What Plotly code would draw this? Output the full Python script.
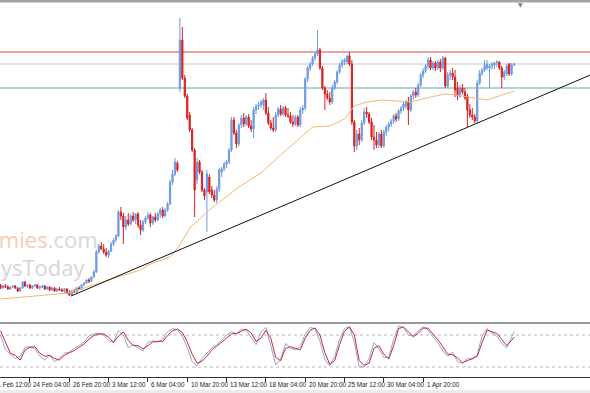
import plotly.graph_objects as go

# ---------------- data (price units are arbitrary; bar index = 4H bars) ----------------
open_ = [35,32,34,33,31,33,34,32,29,32,38,34,35,32,34,35,32,33,34,31,33,30,32,29,31,30,29,31,27,25,
         29,28,32,31,35,37,40,39,43,48,68,74,71,68,65,69,76,80,84,108,104,93,100,96,104,100,106,95,90,98,
         102,105,97,103,100,106,110,104,110,116,138,146,157,232,280,242,224,205,190,170,140,158,148,130,128,143,130,125,120,131,
         148,151,156,158,170,200,187,176,195,202,196,203,194,191,210,214,215,215,220,207,197,192,190,205,211,206,212,205,204,198,
         196,203,195,210,212,241,252,256,262,266,270,252,232,226,222,218,232,238,248,255,258,258,264,256,198,174,186,180,197,208,
         206,198,183,180,175,186,174,188,193,196,199,204,201,209,212,214,218,210,224,228,225,235,245,249,254,260,252,257,252,258,
         252,262,234,245,247,243,232,224,232,228,224,210,205,203,199,237,247,250,252,252,254,255,257,258,252,243,246,256,246,255]
high = [36,35,36,35,34,35,35,33,33,39,39,36,36,35,36,36,34,35,35,34,34,33,33,32,33,32,32,32,30,30,
        31,33,34,36,38,41,42,44,50,70,76,78,76,72,70,78,82,86,110,113,107,104,107,106,108,107,108,100,100,104,
        108,107,104,107,108,112,113,112,118,140,150,162,159,302,293,245,226,208,192,172,162,160,150,132,150,146,134,130,134,152,
        153,158,160,172,203,203,190,197,205,207,205,206,200,213,216,218,220,222,227,213,200,203,208,213,215,214,214,212,208,205,
        205,205,213,215,243,254,258,264,268,290,272,254,234,230,228,235,240,250,257,261,262,265,268,260,200,190,192,200,212,213,
        208,202,195,188,188,190,190,195,198,201,206,207,211,214,218,220,223,226,230,232,237,247,252,256,263,263,259,259,260,261,
        264,263,248,250,252,250,238,235,236,232,226,216,212,206,240,250,252,260,260,256,258,258,260,259,254,250,256,257,257,257]
low = [31,31,32,30,30,32,31,28,28,31,33,32,31,31,33,31,30,32,30,30,29,29,28,28,29,28,27,26,24,24,
       27,27,30,30,34,36,37,38,42,47,66,70,66,63,62,68,74,78,83,100,76,90,94,95,98,96,92,85,88,96,
       100,93,95,98,99,102,102,103,108,115,135,144,148,228,240,222,200,188,168,103,136,146,128,120,88,126,122,118,117,128,
       143,149,152,156,168,185,172,174,192,193,194,192,188,182,206,210,212,210,205,195,190,188,188,203,204,204,203,202,196,193,
       194,193,193,206,210,238,249,254,259,264,250,230,210,220,215,216,230,236,246,252,255,256,254,195,168,170,175,178,195,202,
       196,180,170,172,172,172,172,184,189,193,196,198,199,206,209,211,195,208,220,222,223,233,242,247,251,250,250,249,250,248,
       250,232,232,240,240,223,220,222,226,220,193,202,200,197,197,235,244,248,250,232,250,251,253,250,232,240,244,244,244,254]
close = [32,34,33,31,33,34,32,29,32,38,34,35,32,34,35,32,33,34,31,33,30,32,29,31,30,29,31,27,25,29,
         28,32,31,35,37,40,39,43,48,68,74,71,68,65,69,76,80,84,108,104,93,100,96,104,100,106,95,90,98,102,
         105,97,103,100,106,110,104,110,116,138,146,158,150,280,242,224,202,190,170,130,158,148,130,124,146,128,125,120,131,150,
         151,156,158,170,200,187,176,195,202,196,203,194,191,210,214,215,218,220,207,197,192,190,205,211,206,212,205,204,198,196,
         203,195,210,212,241,252,256,262,266,270,252,232,226,222,218,232,238,248,255,258,260,264,256,198,174,186,180,197,208,206,
         198,183,180,175,186,174,188,193,196,199,204,201,209,212,216,218,210,224,228,225,235,245,249,254,260,252,257,252,258,252,
         262,234,245,247,243,230,224,232,228,222,210,205,203,199,237,247,250,255,256,254,256,257,258,252,243,248,254,246,255,256]
bar_idx = list(range(len(close)))

# moving average
ma_idx = [0, 14, 28, 40, 57, 61, 69, 73, 77, 81, 85, 97, 106, 114, 122, 127, 134, 140, 144, 149,
          155, 167, 175, 181, 185, 191, 198, 203, 209]
ma_val = [21, 24, 27, 37, 50, 56, 63, 75, 92, 101, 110, 133, 147, 165, 182, 193, 194, 201, 214, 218,
          220, 218, 223, 226, 225, 223, 220, 224, 229]

# horizontal levels and trend line
level_red, level_gray, level_green = 268, 256, 232
trend_idx = [28.7, 241]
trend_val = [24, 246]

# stochastic oscillator
stoch_idx = list(range(0, 210, 2)) + [209]
stoch_main = [80,52,44,36,40,57,58,54,40,33,
              42,30,36,46,48,55,60,67,78,82,
              83,80,70,66,88,80,56,62,56,50,
              66,69,67,72,86,92,90,78,56,30,
              22,36,46,56,62,70,80,86,82,91,
              89,76,62,86,94,60,24,34,64,56,
              52,58,82,94,92,68,34,22,40,72,
              92,96,66,20,20,36,66,54,38,38,
              72,97,94,80,78,88,95,90,76,66,
              50,40,48,30,27,36,34,44,78,92,
              84,78,64,56,78,
              86]
stoch_signal = [88,66,46,42,33,52,57,58,46,40,
                42,36,33,42,46,51,57,63,72,79,
                82,82,76,66,78,86,70,60,60,54,
                60,67,68,68,79,88,91,85,67,44,
                27,31,40,52,59,66,74,82,83,87,
                91,84,68,74,89,74,38,32,55,58,
                55,52,74,89,93,80,47,25,32,62,
                87,95,80,32,23,27,55,60,44,35,
                60,92,95,86,77,83,93,93,83,71,
                58,44,43,37,28,32,36,40,66,89,
                86,83,72,60,70,
                76]
stoch_levels = [80, 20]

tick_idx = [-4, 12, 28, 44, 60, 76, 92, 108, 124, 140, 156, 172]
tick_text = ["21 Feb 12:00", "24 Feb 04:00", "26 Feb 20:00", "3 Mar 12:00", "6 Mar 04:00",
             "10 Mar 20:00", "13 Mar 12:00", "18 Mar 04:00", "20 Mar 20:00", "25 Mar 12:00",
             "30 Mar 04:00", "1 Apr 20:00"]

# ---------------- figure ----------------
W, H = 590, 393
X0, X1 = -0.2, 239.9

fig = go.Figure()

fig.add_trace(go.Candlestick(
    x=bar_idx, open=open_, high=high, low=low, close=close,
    increasing=dict(line=dict(color="#6c9be3", width=1), fillcolor="#6c9be3"),
    decreasing=dict(line=dict(color="#dc2020", width=1), fillcolor="#dc2020"),
    whiskerwidth=0, showlegend=False, xaxis="x", yaxis="y", hoverinfo="skip"))

fig.add_trace(go.Scatter(x=ma_idx, y=ma_val, mode="lines",
                         line=dict(color="#f0b870", width=1), showlegend=False,
                         xaxis="x", yaxis="y", hoverinfo="skip"))

fig.add_trace(go.Scatter(x=trend_idx, y=trend_val, mode="lines",
                         line=dict(color="#111111", width=1), showlegend=False,
                         xaxis="x", yaxis="y", hoverinfo="skip"))

fig.add_trace(go.Scatter(x=stoch_idx, y=stoch_main, mode="lines",
                         line=dict(color="#8fa8d6", width=1), showlegend=False,
                         xaxis="x2", yaxis="y2", hoverinfo="skip"))
fig.add_trace(go.Scatter(x=stoch_idx, y=stoch_signal, mode="lines",
                         line=dict(color="#c8283a", width=1), showlegend=False,
                         xaxis="x2", yaxis="y2", hoverinfo="skip"))

shapes = []
# price levels
for lv, col in [(level_red, "#d64545"), (level_gray, "#c8c8c8"), (level_green, "#6fa898")]:
    shapes.append(dict(type="line", xref="paper", x0=0, x1=1, yref="y", y0=lv, y1=lv,
                       line=dict(color=col, width=1), layer="below"))
# oscillator levels
for lv in stoch_levels:
    shapes.append(dict(type="line", xref="paper", x0=0, x1=1, yref="y2", y0=lv, y1=lv,
                       line=dict(color="#b8b8b8", width=1, dash="dot"), layer="below"))
# oscillator top border
shapes.append(dict(type="line", xref="paper", x0=0, x1=1, yref="y2 domain", y0=1, y1=1,
                   line=dict(color="#333333", width=1)))
# window frame bits
shapes.append(dict(type="rect", xref="paper", x0=0, x1=1, yref="paper",
                   y0=(H - 2.5) / H, y1=1, fillcolor="#a4a4a4", line=dict(width=0)))
shapes.append(dict(type="rect", xref="paper", x0=0, x1=1, yref="paper",
                   y0=0, y1=3 / H, fillcolor="#ececec", line=dict(width=0)))

annotations = []
for t, lab in zip(tick_idx, tick_text):
    annotations.append(dict(text=lab, xref="paper", yref="paper",
                            x=(t - X0) / (X1 - X0), y=(H - 384.5) / H,
                            xanchor="left", yanchor="middle", xshift=1.5, showarrow=False,
                            font=dict(family="Liberation Sans Narrow, Liberation Sans, sans-serif",
                                      size=6.3, color="#222222")))
# watermark
annotations.append(dict(text="<span style='color:#f6cdb2'>economies</span><span style='color:#d9d9d9'>.com</span>",
                        xref="paper", yref="paper", x=100 / W, y=(H - 239) / H,
                        xanchor="right", yanchor="middle", showarrow=False,
                        font=dict(family="Open Sans", size=22)))
annotations.append(dict(text="ysToday", xref="paper", yref="paper", x=-1 / W, y=(H - 267) / H,
                        xanchor="left", yanchor="middle", showarrow=False,
                        font=dict(family="Open Sans", size=22, color="#d6d6d6")))
# chart shift marker
annotations.append(dict(text="▼", xref="paper", yref="paper", x=520 / W, y=(H - 5) / H,
                        xanchor="center", yanchor="middle", showarrow=False,
                        font=dict(family="DejaVu Sans", size=6, color="#808080")))

fig.update_layout(
    width=W, height=H, margin=dict(l=0, r=0, t=0, b=0),
    paper_bgcolor="white", plot_bgcolor="white",
    showlegend=False, shapes=shapes, annotations=annotations,
    xaxis=dict(domain=[0, 1], range=[X0, X1], anchor="y", visible=False,
               rangeslider=dict(visible=False), fixedrange=True),
    yaxis=dict(domain=[(H - 322) / H, (H - 4) / H], range=[-2, 316], anchor="x",
               visible=False, fixedrange=True),
    xaxis2=dict(domain=[0, 1], range=[X0, X1], anchor="y2", showline=True,
                linecolor="#333333", linewidth=1, ticks="outside", ticklen=4,
                tickcolor="#333333", tickvals=tick_idx, showticklabels=False,
                showgrid=False, zeroline=False, fixedrange=True),
    yaxis2=dict(domain=[(H - 377) / H, (H - 323) / H], range=[1.25, 102.5], anchor="x2",
                visible=False, fixedrange=True),
)

fig.write_html("out.html")
